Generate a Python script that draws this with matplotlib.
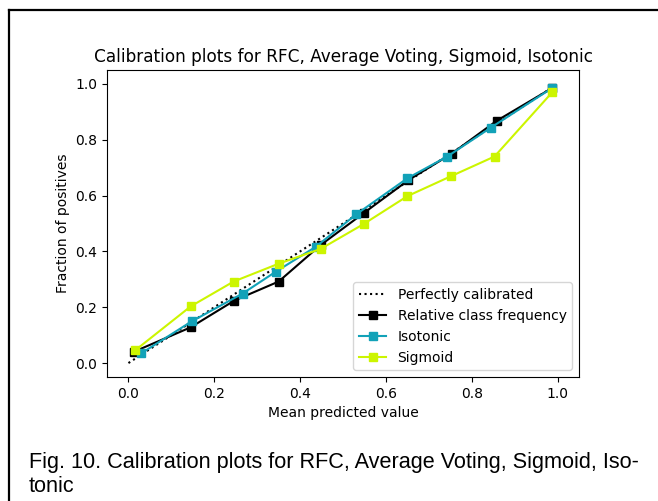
import numpy as np
import matplotlib
matplotlib.use("Agg")
import matplotlib.pyplot as plt
from matplotlib.lines import Line2D

# mean predicted value / fraction of positives per bin
rfc_x = [0.012, 0.145, 0.247, 0.350, 0.448, 0.548, 0.652, 0.753, 0.858, 0.988]
rfc_y = [0.040, 0.128, 0.224, 0.292, 0.423, 0.537, 0.655, 0.750, 0.868, 0.986]

iso_x = [0.030, 0.147, 0.266, 0.343, 0.436, 0.531, 0.650, 0.743, 0.844, 0.988]
iso_y = [0.035, 0.149, 0.249, 0.327, 0.416, 0.533, 0.662, 0.740, 0.843, 0.986]

sig_x = [0.016, 0.145, 0.245, 0.350, 0.448, 0.548, 0.650, 0.751, 0.853, 0.988]
sig_y = [0.046, 0.203, 0.292, 0.356, 0.409, 0.498, 0.598, 0.669, 0.740, 0.971]

caption = ["Fig. 10. Calibration plots for RFC, Average Voting, Sigmoid, Iso-",
           "tonic"]

fig = plt.figure(figsize=(6.58, 5.01), dpi=100)
ax = fig.add_axes([0.1626, 0.2475, 0.7174, 0.6128])

ax.plot([0, 1], [0, 1], "k:", label="Perfectly calibrated")
ax.plot(rfc_x, rfc_y, "s-", color="black", label="Relative class frequency")
ax.plot(iso_x, iso_y, "s-", color="#12a2b8", label="Isotonic")
ax.plot(sig_x, sig_y, "s-", color="#ccf500", label="Sigmoid")

ax.set_xlabel("Mean predicted value")
ax.set_ylabel("Fraction of positives")
ax.set_title("Calibration plots for RFC, Average Voting, Sigmoid, Isotonic",
             fontsize=12.2)
ax.legend(loc="lower right")

# page frame (top and left rules)
fig.add_artist(Line2D([0.0137, 0.0137], [0, 0.98], transform=fig.transFigure,
                      color="black", lw=1.6))
fig.add_artist(Line2D([0.0137, 1.0], [0.98, 0.98], transform=fig.transFigure,
                      color="black", lw=1.6))

# figure caption, one text per line
for line, yb in zip(caption, [0.0659, 0.018]):
    fig.text(0.044, yb, line, family="Liberation Sans", fontsize=15.6,
             va="baseline", ha="left")

fig.savefig("out.png", dpi=100)
